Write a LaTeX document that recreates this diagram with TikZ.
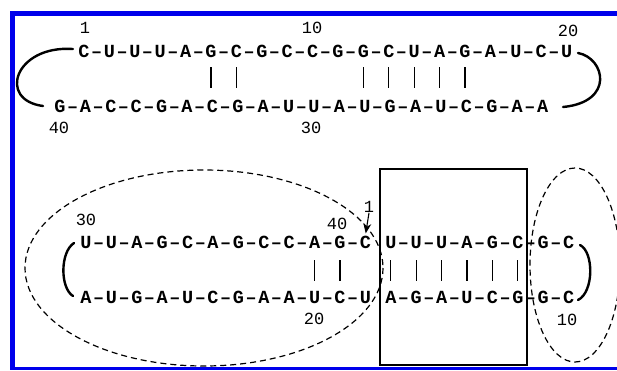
\documentclass[tikz,border=0pt]{standalone}
\usepackage{fontspec}
\newfontfamily\seqfont{Liberation Mono}
\usetikzlibrary{arrows.meta}
\definecolor{frameblue}{RGB}{0,0,235}
\newcommand\strandrow[4]{%
  \foreach \c [count=\i] in {#4} {%
    \pgfmathsetmacro\xx{#2+12.7*(\i-1)}%
    \node[seq] (#1-\i) at (\xx,#3) {\c};
  }}
\begin{document}
\begin{tikzpicture}[x=1pt,y=-1pt,
  seq/.style={font=\seqfont\bfseries\fontsize{18.5}{18.5}\selectfont, inner sep=0pt, anchor=base},
  num/.style={font=\seqfont\fontsize{17}{17}\selectfont, inner sep=0pt},
  bar/.style={line width=1.3pt},
  loopline/.style={line width=2.4pt, line cap=round},
  region/.style={line width=1.2pt, dash pattern=on 6pt off 4pt},
  framebar/.style={frameblue, line width=5pt}]
\useasboundingbox (0,0) rectangle (617,370);
\fill[white] (0,0) rectangle (617,370);
% frame
\draw[framebar] (10,13.5) -- (617,13.5);
\draw[framebar] (12.5,11) -- (12.5,370);
\draw[frameblue, line width=2.5pt] (10,368.5) -- (617,368.5);

% ---------- top panel ----------
\strandrow{T}{84}{57}{C,–,U,–,U,–,U,–,A,–,G,–,C,–,G,–,C,–,C,–,G,–,G,–,C,–,U,–,A,–,G,–,A,–,U,–,C,–,U}
\strandrow{B}{60}{112}{G,–,A,–,C,–,C,–,G,–,A,–,C,–,G,–,A,–,U,–,U,–,A,–,U,–,G,–,A,–,U,–,C,–,G,–,A,–,A}
\foreach \k in {11,13,23,25,27,29,31}
  \draw[bar] (T-\k.base) ++(0,10) -- ++(0,21);
\node[num] (t1) at (85,28) {1};
\node[num] (t10) at (312,28) {10};
\node[num] (t20) at (568,31) {20};
\node[num] (t40) at (59,128) {40};
\node[num] (t30) at (311,128) {30};
\coordinate (la) at (73,49); \coordinate (lb) at (43,106);
\draw[loopline] (la) .. controls (15,45) and (-3,100) .. (lb);
\coordinate (ra) at (578,53); \coordinate (rb) at (563,107);
\draw[loopline] (ra) .. controls (605,58) and (615,102) .. (rb);

% ---------- bottom panel ----------
\draw[region] (204,268) ellipse [x radius=179, y radius=98];
\draw[region] (575,265) ellipse [x radius=45, y radius=97];
\node[draw, line width=2.5pt, minimum width=147pt, minimum height=196pt, inner sep=0pt] (stem) at (453.5,267) {};
\strandrow{P}{86}{248}{U,–,U,–,A,–,G,–,C,–,A,–,G,–,C,–,C,–,A,–,G,–,C,{\phantom{–}},U,–,U,–,U,–,A,–,G,–,C,–,G,–,C}
\strandrow{Q}{86}{303}{A,–,U,–,G,–,A,–,U,–,C,–,G,–,A,–,A,–,U,–,C,–,U,{\phantom{–}},A,–,G,–,A,–,U,–,C,–,G,–,G,–,C}
\foreach \k in {19,21,25,27,29,31,33,35}
  \draw[bar] (P-\k.base) ++(0,12) -- ++(0,21);
\node[num] (p30) at (86,220) {30};
\node[num] (p40) at (337,224) {40};
\node[num] (p1) at (369,207) {1};
\node[num] (p20) at (314,319) {20};
\node[num] (p10) at (567,320) {10};
\draw[line width=1.1pt, -{Stealth[length=10pt,width=8pt]}, shorten >=2pt, shorten <=0pt] (p1.south) -- (P-23.north);
\coordinate (pa) at (74,243); \coordinate (pb) at (73,296);
\draw[loopline] (pa) .. controls (60,252) and (60,288) .. (pb);
\coordinate (qa) at (580,245); \coordinate (qb) at (578,300);
\draw[loopline] (qa) .. controls (594,252) and (594,292) .. (qb);
\end{tikzpicture}
\end{document}
